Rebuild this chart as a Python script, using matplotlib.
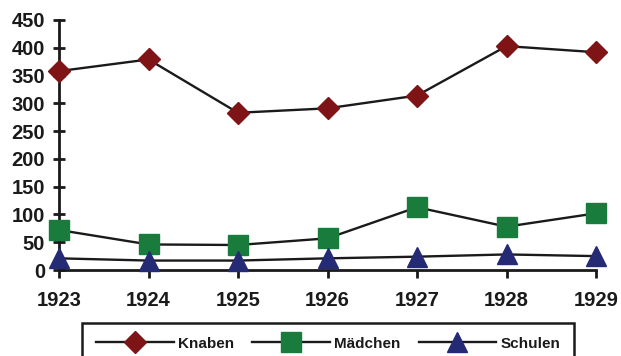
import matplotlib

matplotlib.use("Agg")
import matplotlib.pyplot as plt

years = ["1923", "1924", "1925", "1926", "1927", "1928", "1929"]
knaben = [358, 379, 283, 291, 314, 403, 392]
maedchen = [72, 46, 45, 57, 113, 78, 102]
schulen = [21, 17, 17, 21, 24, 28, 25]
y_ticks = list(range(0, 451, 50))

plt.rcParams["font.family"] = ["Liberation Sans", "DejaVu Sans"]
plt.rcParams["font.weight"] = "bold"

fig = plt.figure(figsize=(6.21, 3.56), dpi=100)
ax = fig.add_axes([59 / 621, 1 - 270 / 356, 537 / 621, 250 / 356])

x = range(len(years))
series = [
    ("Knaben", knaben, "D", "#7f1416", 11),
    ("Mädchen", maedchen, "s", "#197c3c", 14),
    ("Schulen", schulen, "^", "#242a74", 14),
]
for label, values, marker, color, size in series:
    ax.plot(x, values, color="#1a1a1a", lw=1.7, marker=marker, ms=size,
            mfc=color, mec=color, label=label, clip_on=False, zorder=3)

ax.set_xlim(0, len(years) - 1)
ax.set_ylim(0, 450)
ax.set_xticks(list(x))
ax.set_xticklabels(years)
ax.set_yticks(y_ticks)

for side in ("top", "right"):
    ax.spines[side].set_visible(False)
for side in ("left", "bottom"):
    ax.spines[side].set_linewidth(2)
    ax.spines[side].set_color("#1a1a1a")

ax.tick_params(axis="y", direction="inout", length=8, width=2, color="#1a1a1a",
               labelsize=14.5, pad=6)
ax.tick_params(axis="x", direction="out", length=6, width=2, color="#1a1a1a",
               labelsize=14.5, pad=9)
for lbl in ax.get_xticklabels() + ax.get_yticklabels():
    lbl.set_fontweight("bold")
    lbl.set_color("#1a1a1a")

# legend box runs off the bottom edge of the figure
leg = fig.legend(loc="upper center", bbox_to_anchor=(328 / 621, 1 - 323 / 356),
                 bbox_transform=fig.transFigure, ncol=3, borderaxespad=0,
                 frameon=True, fancybox=False, edgecolor="#1a1a1a", framealpha=1,
                 fontsize=11, handlelength=5.1, columnspacing=1.2,
                 handletextpad=0.25, borderpad=0.9, markerscale=1.05)
leg.get_frame().set_linewidth(1.8)
for t in leg.get_texts():
    t.set_fontweight("bold")
    t.set_color("#1a1a1a")

fig.savefig("out.png", dpi=100)
